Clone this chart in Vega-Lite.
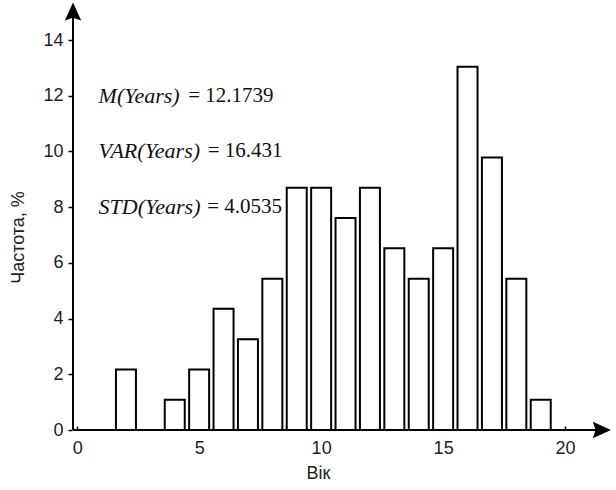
{
  "$schema": "https://vega.github.io/schema/vega-lite/v6.json",
  "width": 548,
  "height": 429,
  "autosize": {"type": "none"},
  "padding": {"left": 68, "top": 1, "right": 0, "bottom": 60},
  "background": "white",
  "config": {
    "view": {"stroke": null},
    "axis": {
      "grid": false,
      "domain": false,
      "tickColor": "#000",
      "tickWidth": 1.5,
      "labelFont": "Liberation Sans",
      "labelFontSize": 18,
      "labelColor": "#222",
      "titleFont": "Liberation Sans",
      "titleFontSize": 18,
      "titleFontWeight": "normal",
      "titleColor": "#222"
    }
  },
  "datasets": {
    "hist": [
      {"age": 2, "freq": 2.17},
      {"age": 4, "freq": 1.09},
      {"age": 5, "freq": 2.17},
      {"age": 6, "freq": 4.35},
      {"age": 7, "freq": 3.26},
      {"age": 8, "freq": 5.43},
      {"age": 9, "freq": 8.7},
      {"age": 10, "freq": 8.7},
      {"age": 11, "freq": 7.61},
      {"age": 12, "freq": 8.7},
      {"age": 13, "freq": 6.52},
      {"age": 14, "freq": 5.43},
      {"age": 15, "freq": 6.52},
      {"age": 16, "freq": 13.04},
      {"age": 17, "freq": 9.78},
      {"age": 18, "freq": 5.43},
      {"age": 19, "freq": 1.09}
    ],
    "stats": [
      {"label": "M(Years)", "value": "= 12.1739", "ty": 12, "vx": 4.55},
      {"label": "VAR(Years)", "value": "= 16.431", "ty": 10, "vx": 5.35},
      {"label": "STD(Years)", "value": "= 4.0535", "ty": 8, "vx": 5.33}
    ],
    "one": [{"k": 1}]
  },
  "layer": [
    {
      "data": {"name": "hist"},
      "mark": {"type": "bar", "size": 20, "fill": "white", "stroke": "#000", "strokeWidth": 2},
      "encoding": {
        "x": {
          "field": "age",
          "type": "quantitative",
          "scale": {"domain": [-0.17, 21.88], "nice": false, "zero": false},
          "axis": {
            "values": [0, 5, 10, 15, 20],
            "title": "Вік",
            "tickSize": -4,
            "labelPadding": 13,
            "titleX": 250,
            "titleY": 43,
            "titleAlign": "center",
            "titleBaseline": "middle"
          }
        },
        "y": {
          "field": "freq",
          "type": "quantitative",
          "scale": {"domain": [0, 15.4], "nice": false},
          "axis": {
            "values": [0, 2, 4, 6, 8, 10, 12, 14],
            "title": "Частота, %",
            "tickSize": -4,
            "labelPadding": 9,
            "titleX": -50,
            "titleY": 236,
            "titleAngle": 270,
            "titleAlign": "center",
            "titleBaseline": "middle"
          }
        }
      }
    },
    {
      "data": {"name": "one"},
      "mark": {"type": "rule", "color": "#000", "strokeWidth": 2},
      "encoding": {
        "x": {"datum": -0.17, "type": "quantitative"},
        "x2": {"datum": 21.4},
        "y": {"datum": 0, "type": "quantitative"}
      }
    },
    {
      "data": {"name": "one"},
      "mark": {"type": "rule", "color": "#000", "strokeWidth": 2},
      "encoding": {
        "x": {"datum": -0.17, "type": "quantitative"},
        "y": {"datum": 0, "type": "quantitative"},
        "y2": {"datum": 14.9}
      }
    },
    {
      "data": {"name": "stats"},
      "mark": {"type": "text", "align": "left", "baseline": "middle", "font": "Liberation Serif", "fontSize": 22, "fontStyle": "italic", "color": "#111"},
      "encoding": {
        "x": {"datum": 0.88, "type": "quantitative"},
        "y": {"field": "ty", "type": "quantitative"},
        "text": {"field": "label"}
      }
    },
    {
      "data": {"name": "stats"},
      "mark": {"type": "text", "align": "left", "baseline": "middle", "font": "Liberation Serif", "fontSize": 21, "color": "#111"},
      "encoding": {
        "x": {"field": "vx", "type": "quantitative"},
        "y": {"field": "ty", "type": "quantitative"},
        "text": {"field": "value"}
      }
    },
    {
      "data": {"name": "one"},
      "mark": {"type": "point", "shape": "M0,0 L-2,-0.9 L-1.7,0 L-2,0.9 Z", "size": 330, "filled": true, "color": "#000", "opacity": 1, "strokeWidth": 0},
      "encoding": {
        "x": {"datum": 21.88, "type": "quantitative"},
        "y": {"datum": 0, "type": "quantitative"}
      }
    },
    {
      "data": {"name": "one"},
      "mark": {"type": "point", "shape": "M0,0 L-0.9,2 L0,1.7 L0.9,2 Z", "size": 330, "filled": true, "color": "#000", "opacity": 1, "strokeWidth": 0},
      "encoding": {
        "x": {"datum": -0.17, "type": "quantitative"},
        "y": {"datum": 15.35, "type": "quantitative"}
      }
    }
  ]
}
